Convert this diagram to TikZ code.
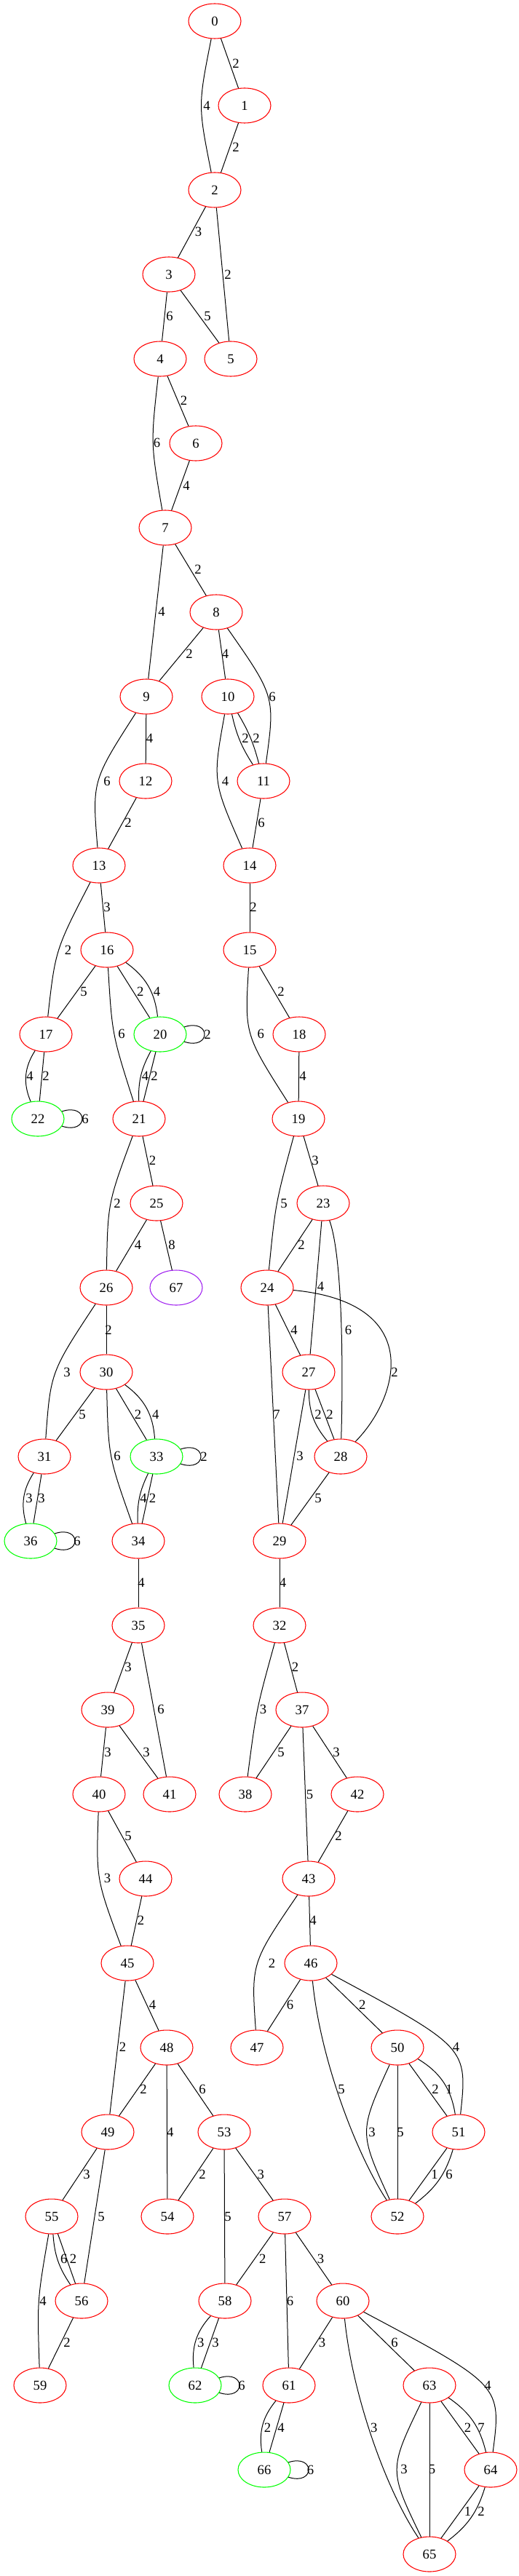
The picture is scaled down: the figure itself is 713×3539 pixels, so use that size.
\documentclass[tikz,border=0pt]{standalone}
\usepackage{fontspec}
\setmainfont{Liberation Serif}
\usetikzlibrary{shapes.geometric}
\definecolor{gvgreen}{RGB}{0,255,0}
\definecolor{gvpurple}{RGB}{160,32,240}
\begin{document}
\begin{tikzpicture}[x=0.75pt,y=-0.75pt,
  nd/.style={ellipse,draw=red,line width=0.8pt,minimum width=54pt,minimum height=36pt,inner sep=0pt,font=\fontsize{14}{16}\selectfont},
  gn/.style={nd,draw=gvgreen},
  pn/.style={nd,draw=gvpurple},
  e/.style={line width=0.75pt,draw=black},
  lbl/.style={inner sep=0pt,font=\fontsize{14}{16}\selectfont}]
\useasboundingbox (0,0) rectangle (713,3539);
\fill[white] (0,0) rectangle (713,3539);
% nodes
\node[nd] (n0) at (295,29) {0};
\node[nd] (n1) at (336,145) {1};
\node[nd] (n2) at (295,261) {2};
\node[nd] (n3) at (232,377) {3};
\node[nd] (n4) at (220,493) {4};
\node[nd] (n5) at (317,493) {5};
\node[nd] (n6) at (269,609) {6};
\node[nd] (n7) at (227,725) {7};
\node[nd] (n8) at (297,841) {8};
\node[nd] (n9) at (201,957) {9};
\node[nd] (n10) at (313,957) {10};
\node[nd] (n12) at (200,1073) {12};
\node[nd] (n11) at (362,1073) {11};
\node[nd] (n13) at (136,1189) {13};
\node[nd] (n14) at (343,1189) {14};
\node[nd] (n16) at (147,1305) {16};
\node[nd] (n15) at (343,1305) {15};
\node[nd] (n17) at (63,1421) {17};
\node[gn] (n20) at (220,1421) {20};
\node[nd] (n18) at (411,1421) {18};
\node[gn] (n22) at (52,1537) {22};
\node[nd] (n21) at (191,1537) {21};
\node[nd] (n19) at (410,1537) {19};
\node[nd] (n25) at (215,1653) {25};
\node[nd] (n23) at (444,1653) {23};
\node[nd] (n26) at (146,1769) {26};
\node[pn] (n67) at (242,1769) {67};
\node[nd] (n24) at (367,1769) {24};
\node[nd] (n30) at (146,1885) {30};
\node[nd] (n27) at (424,1885) {27};
\node[nd] (n31) at (61,2001) {31};
\node[gn] (n33) at (215,2001) {33};
\node[nd] (n28) at (468,2001) {28};
\node[gn] (n36) at (42,2117) {36};
\node[nd] (n34) at (190,2117) {34};
\node[nd] (n29) at (384,2117) {29};
\node[nd] (n35) at (190,2233) {35};
\node[nd] (n32) at (384,2233) {32};
\node[nd] (n39) at (148,2349) {39};
\node[nd] (n37) at (415,2349) {37};
\node[nd] (n40) at (136,2465) {40};
\node[nd] (n41) at (233,2465) {41};
\node[nd] (n38) at (337,2465) {38};
\node[nd] (n42) at (491,2465) {42};
\node[nd] (n44) at (200,2581) {44};
\node[nd] (n43) at (424,2581) {43};
\node[nd] (n45) at (175,2697) {45};
\node[nd] (n46) at (427,2697) {46};
\node[nd] (n48) at (229,2813) {48};
\node[nd] (n47) at (353,2813) {47};
\node[nd] (n50) at (546,2813) {50};
\node[nd] (n49) at (148,2929) {49};
\node[nd] (n53) at (308,2929) {53};
\node[nd] (n51) at (630,2929) {51};
\node[nd] (n55) at (71,3045) {55};
\node[nd] (n54) at (230,3045) {54};
\node[nd] (n57) at (391,3045) {57};
\node[nd] (n52) at (546,3045) {52};
\node[nd] (n56) at (112,3161) {56};
\node[nd] (n58) at (309,3161) {58};
\node[nd] (n60) at (471,3161) {60};
\node[nd] (n59) at (55,3277) {59};
\node[gn] (n62) at (268,3277) {62};
\node[nd] (n61) at (397,3277) {61};
\node[nd] (n63) at (590,3277) {63};
\node[gn] (n66) at (363,3393) {66};
\node[nd] (n64) at (674,3393) {64};
\node[nd] (n65) at (590,3509) {65};
% edges
\draw[e] (n0) -- (n1) node[lbl] at (324,87) {2};
\draw[e] (n0) .. controls (272,145) .. (n2) node[lbl] at (284,145) {4};
\draw[e] (n1) -- (n2) node[lbl] at (324,202) {2};
\draw[e] (n2) -- (n3) node[lbl] at (272.6,318) {3};
\draw[e] (n2) -- (n5) node[lbl] at (313,377) {2};
\draw[e] (n3) -- (n4) node[lbl] at (233,434) {6};
\draw[e] (n3) -- (n5) node[lbl] at (285,434) {5};
\draw[e] (n4) -- (n6) node[lbl] at (252.5,550) {2};
\draw[e] (n4) .. controls (207,609) .. (n7) node[lbl] at (215.5,608) {6};
\draw[e] (n6) -- (n7) node[lbl] at (256,667) {4};
\draw[e] (n7) -- (n8) node[lbl] at (272,782) {2};
\draw[e] (n7) -- (n9) node[lbl] at (222,840) {4};
\draw[e] (n8) -- (n9) node[lbl] at (260,898) {2};
\draw[e] (n8) -- (n10) node[lbl] at (309.6,898) {4};
\draw[e] (n8) .. controls (378,957) .. (n11) node[lbl] at (374,957) {6};
\draw[e] (n9) -- (n12) node[lbl] at (205.5,1014) {4};
\draw[e] (n9) .. controls (126.5,1073) .. (n13) node[lbl] at (147,1073) {6};
\draw[e] (n10) to[bend right=10] (n11) node[lbl] at (337,1014) {2};
\draw[e] (n10) to[bend left=8] (n11) node[lbl] at (352,1014) {2};
\draw[e] (n10) .. controls (292,1073) .. (n14) node[lbl] at (309.6,1073) {4};
\draw[e] (n11) -- (n14) node[lbl] at (359,1130) {6};
\draw[e] (n12) -- (n13) node[lbl] at (176,1130) {2};
\draw[e] (n13) -- (n16) node[lbl] at (147,1246) {3};
\draw[e] (n13) .. controls (76,1305) .. (n17) node[lbl] at (93.6,1305) {2};
\draw[e] (n14) -- (n15) node[lbl] at (348,1246) {2};
\draw[e] (n15) -- (n18) node[lbl] at (386,1362) {2};
\draw[e] (n15) .. controls (336,1421) .. (n19) node[lbl] at (358.4,1420) {6};
\draw[e] (n16) -- (n17) node[lbl] at (115,1362) {5};
\draw[e] (n16) -- (n20) node[lbl] at (192.7,1362) {2};
\draw[e] (n16) to[bend left=24] (n20) node[lbl] at (215.5,1362) {4};
\draw[e] (n16) .. controls (154,1421) .. (n21) node[lbl] at (167,1420) {6};
\draw[e] (n17) to[bend right=28] (n22) node[lbl] at (41,1478) {4};
\draw[e] (n17) -- (n22) node[lbl] at (63,1478) {2};
\draw[e] (n20.17) .. controls +(37,-12) and +(37,12) .. (n20.-17) node[lbl] at (285,1421) {2};
\draw[e] (n20) to[bend right=15] (n21) node[lbl] at (199.5,1478) {4};
\draw[e] (n20) -- (n21) node[lbl] at (212,1478) {2};
\draw[e] (n22.17) .. controls +(37,-12) and +(37,12) .. (n22.-17) node[lbl] at (117,1537) {6};
\draw[e] (n18) -- (n19) node[lbl] at (416,1478) {4};
\draw[e] (n19) -- (n23) node[lbl] at (433,1594) {3};
\draw[e] (n19) .. controls (378.5,1653) .. (n24) node[lbl] at (390,1653) {5};
\draw[e] (n21) -- (n25) node[lbl] at (209.6,1594) {2};
\draw[e] (n21) .. controls (148,1653) .. (n26) node[lbl] at (161,1653) {2};
\draw[e] (n25) -- (n26) node[lbl] at (189.5,1710) {4};
\draw[e] (n25) -- (n67) node[lbl] at (236,1710) {8};
\draw[e] (n23) -- (n24) node[lbl] at (414,1710) {2};
\draw[e] (n23) -- (n27) node[lbl] at (440.6,1767) {4};
\draw[e] (n23) .. controls (472,1730) and (471,1900) .. (n28) node[lbl] at (478.5,1827) {6};
\draw[e] (n24) -- (n27) node[lbl] at (404,1827) {4};
\draw[e] (n24) .. controls (585,1790) and (548,1920) .. (n28) node[lbl] at (542,1885) {2};
\draw[e] (n24) -- (n29) node[lbl] at (380,1943) {7};
\draw[e] (n26) -- (n30) node[lbl] at (149,1827) {2};
\draw[e] (n26) .. controls (69.5,1885) .. (n31) node[lbl] at (92,1885) {3};
\draw[e] (n27) to[bend right=20] (n28) node[lbl] at (437,1943) {2};
\draw[e] (n27) -- (n28) node[lbl] at (453,1943) {2};
\draw[e] (n27) -- (n29) node[lbl] at (412,2000) {3};
\draw[e] (n28) -- (n29) node[lbl] at (437,2058) {5};
\draw[e] (n30) -- (n31) node[lbl] at (113,1943) {5};
\draw[e] (n30) -- (n33) node[lbl] at (189.5,1943) {2};
\draw[e] (n30) to[bend left=25] (n33) node[lbl] at (213.7,1943) {4};
\draw[e] (n30) .. controls (149,2001) .. (n34) node[lbl] at (161,2000) {6};
\draw[e] (n31) to[bend right=24] (n36) node[lbl] at (40,2058) {3};
\draw[e] (n31) -- (n36) node[lbl] at (57,2058) {3};
\draw[e] (n33.17) .. controls +(37,-12) and +(37,12) .. (n33.-17) node[lbl] at (280,2001) {2};
\draw[e] (n33) to[bend right=14] (n34) node[lbl] at (197,2058) {4};
\draw[e] (n33) -- (n34) node[lbl] at (209.6,2058) {2};
\draw[e] (n36.17) .. controls +(37,-12) and +(37,12) .. (n36.-17) node[lbl] at (106,2117) {6};
\draw[e] (n34) -- (n35) node[lbl] at (194,2174) {4};
\draw[e] (n29) -- (n32) node[lbl] at (388.6,2174) {4};
\draw[e] (n35) -- (n39) node[lbl] at (176,2290) {3};
\draw[e] (n35) -- (n41) node[lbl] at (221,2348) {6};
\draw[e] (n32) -- (n37) node[lbl] at (405.5,2290) {2};
\draw[e] (n32) .. controls (352,2349) .. (n38) node[lbl] at (361.6,2348) {3};
\draw[e] (n39) -- (n40) node[lbl] at (148,2407) {3};
\draw[e] (n39) -- (n41) node[lbl] at (201,2407) {3};
\draw[e] (n37) -- (n38) node[lbl] at (386,2407) {5};
\draw[e] (n37) -- (n42) node[lbl] at (462,2407) {3};
\draw[e] (n37) -- (n43) node[lbl] at (425.6,2465) {5};
\draw[e] (n40) -- (n44) node[lbl] at (176,2522) {5};
\draw[e] (n40) .. controls (132,2581) .. (n45) node[lbl] at (147.5,2580) {3};
\draw[e] (n42) -- (n43) node[lbl] at (465,2522) {2};
\draw[e] (n44) -- (n45) node[lbl] at (193.6,2638) {2};
\draw[e] (n43) -- (n46) node[lbl] at (430,2638) {4};
\draw[e] (n43) .. controls (345,2697) .. (n47) node[lbl] at (373.5,2697) {2};
\draw[e] (n45) -- (n48) node[lbl] at (209.6,2754) {4};
\draw[e] (n45) -- (n49) node[lbl] at (168.5,2812) {2};
\draw[e] (n46) -- (n47) node[lbl] at (398.6,2754) {6};
\draw[e] (n46) -- (n50) node[lbl] at (497.7,2754) {2};
\draw[e] (n46) .. controls (642.5,2813) .. (n51) node[lbl] at (626.5,2812) {4};
\draw[e] (n46) .. controls (440,2830) and (490,2960) .. (n52) node[lbl] at (469,2870) {5};
\draw[e] (n48) -- (n49) node[lbl] at (197,2870) {2};
\draw[e] (n48) -- (n54) node[lbl] at (233.8,2929) {4};
\draw[e] (n48) -- (n53) node[lbl] at (278,2870) {6};
\draw[e] (n50) -- (n51) node[lbl] at (598,2870) {2};
\draw[e] (n50) to[bend left=25] (n51) node[lbl] at (617,2870) {1};
\draw[e] (n50) .. controls (493,2929) .. (n52) node[lbl] at (511,2929) {3};
\draw[e] (n50) -- (n52) node[lbl] at (550,2929) {5};
\draw[e] (n51) -- (n52) node[lbl] at (597,2987) {1};
\draw[e] (n51) to[bend left=18] (n52) node[lbl] at (617,2987) {6};
\draw[e] (n49) -- (n55) node[lbl] at (119,2987) {3};
\draw[e] (n49) -- (n56) node[lbl] at (139,3045) {5};
\draw[e] (n53) -- (n54) node[lbl] at (278,2987) {2};
\draw[e] (n53) -- (n57) node[lbl] at (358.4,2987) {3};
\draw[e] (n53) -- (n58) node[lbl] at (313,3045) {5};
\draw[e] (n55) to[bend right=15] (n56) node[lbl] at (87.7,3103) {6};
\draw[e] (n55) -- (n56) node[lbl] at (100.5,3103) {2};
\draw[e] (n55) .. controls (51,3161) .. (n59) node[lbl] at (59,3161) {4};
\draw[e] (n56) -- (n59) node[lbl] at (92,3218) {2};
\draw[e] (n57) -- (n58) node[lbl] at (360.7,3103) {2};
\draw[e] (n57) -- (n61) node[lbl] at (398.6,3161) {6};
\draw[e] (n57) -- (n60) node[lbl] at (440.6,3103) {3};
\draw[e] (n58) to[bend right=24] (n62) node[lbl] at (275.8,3218) {3};
\draw[e] (n58) -- (n62) node[lbl] at (296,3218) {3};
\draw[e] (n62.17) .. controls +(37,-12) and +(37,12) .. (n62.-17) node[lbl] at (332,3277) {6};
\draw[e] (n60) -- (n61) node[lbl] at (442.5,3218) {3};
\draw[e] (n60) -- (n63) node[lbl] at (542,3218) {6};
\draw[e] (n60) .. controls (689,3277) .. (n64) node[lbl] at (670,3277) {4};
\draw[e] (n60) .. controls (484,3290) and (530,3420) .. (n65) node[lbl] at (513.7,3335) {3};
\draw[e] (n61) to[bend right=24] (n66) node[lbl] at (367.6,3335) {2};
\draw[e] (n61) -- (n66) node[lbl] at (386,3335) {4};
\draw[e] (n66.17) .. controls +(37,-12) and +(37,12) .. (n66.-17) node[lbl] at (426.5,3393) {6};
\draw[e] (n63) -- (n64) node[lbl] at (642.5,3335) {2};
\draw[e] (n63) to[bend left=21] (n64) node[lbl] at (661,3335) {7};
\draw[e] (n63) .. controls (534,3393) .. (n65) node[lbl] at (555,3392) {3};
\draw[e] (n63) -- (n65) node[lbl] at (593.6,3392) {5};
\draw[e] (n64) -- (n65) node[lbl] at (642.5,3450) {1};
\draw[e] (n64) to[bend left=18] (n65) node[lbl] at (661,3450) {2};
\end{tikzpicture}
\end{document}
